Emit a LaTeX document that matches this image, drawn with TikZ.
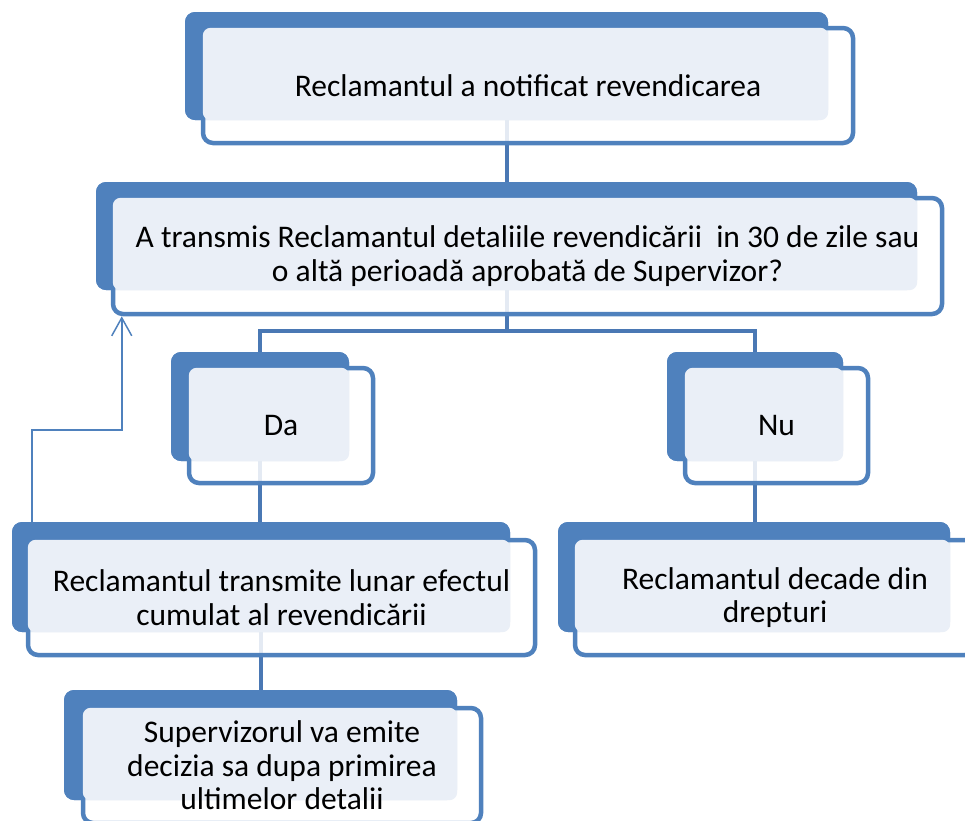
\documentclass[tikz,border=0pt]{standalone}
\usepackage{fontspec}
\setmainfont{Carlito}
\usetikzlibrary{arrows.meta}
\definecolor{boxblue}{HTML}{4F81BD}
\definecolor{linkblue}{HTML}{4A78B4}
\definecolor{boxlight}{HTML}{EAEFF7}

\begin{document}
\begin{tikzpicture}[x=1pt, y=-1pt,
	back/.style={fill=boxblue, rounded corners=10pt, inner sep=0pt},
	frame/.style={draw=boxblue, line width=4.5pt, fill=white, fill opacity=0.85, rounded corners=10pt, inner sep=0pt},
	light/.style={fill=boxlight, rounded corners=8pt},
	txt/.style={font=\fontsize{31.5}{33.5}\selectfont, align=center, inner sep=0pt},
	link/.style={draw=linkblue, line width=4pt},
	fb/.style={draw=boxblue, line width=1.5pt, -{Straight Barb[length=18pt, width=20pt]}}]
		\useasboundingbox (0,0) rectangle (965,820);
		\clip (0,0) rectangle (965,820);
		% ramuri
		\node[back, minimum width=643, minimum height=108] (notif-b) at (506.5,66) {};
		\node[back, minimum width=821, minimum height=108] (intreb-b) at (506.5,236) {};
		\node[back, minimum width=178, minimum height=109] (da-b) at (260,406.5) {};
		\node[back, minimum width=176, minimum height=109] (nu-b) at (755,406.5) {};
		\node[back, minimum width=498, minimum height=110] (trans-b) at (261,577) {};
		\node[back, minimum width=392, minimum height=110] (decade-b) at (754,577) {};
		\node[back, minimum width=393, minimum height=110] (decizie-b) at (260.5,745) {};
		\coordinate (split) at (506.5,331);
		\coordinate (loop) at (32,522);
		\draw[link] (notif-b.south) -- (intreb-b.north);
		\draw[link] (intreb-b.south) -- (split);
		\draw[link] (split) -| (da-b.north);
		\draw[link] (split) -| (nu-b.north);
		\draw[link] (da-b.south) -- (da-b.south |- trans-b.north);
		\draw[link] (nu-b.south) -- (nu-b.south |- decade-b.north);
		\draw[link] (trans-b.south) -- (trans-b.south |- decizie-b.north);
		% casete
		\node[back, minimum width=643, minimum height=108] at (notif-b) {};
		\node[frame, minimum width=650, minimum height=115] (notif-f) at (528,85.5) {};
		\fill[light] ([xshift=2pt, yshift=-2pt]notif-f.north west) rectangle (notif-b.south east);
		\node[txt] (notif) at (notif-f) {Reclamantul a notificat revendicarea};

		\node[back, minimum width=821, minimum height=108] at (intreb-b) {};
		\node[frame, minimum width=829, minimum height=116] (intreb-f) at (527.5,256) {};
		\fill[light] ([xshift=2pt, yshift=-2pt]intreb-f.north west) rectangle (intreb-b.south east);
		\node[txt] (intreb) at (intreb-f) {A transmis Reclamantul detaliile revendicării\ \ in 30 de zile sau\\o altă perioadă aprobată de Supervizor?};

		\node[back, minimum width=178, minimum height=109] at (da-b) {};
		\node[frame, minimum width=184, minimum height=115] (da-f) at (281,425.5) {};
		\fill[light] ([xshift=2pt, yshift=-2pt]da-f.north west) rectangle (da-b.south east);
		\node[txt] (da) at (da-f) {Da};

		\node[back, minimum width=176, minimum height=109] at (nu-b) {};
		\node[frame, minimum width=183, minimum height=115] (nu-f) at (776.5,425.5) {};
		\fill[light] ([xshift=2pt, yshift=-2pt]nu-f.north west) rectangle (nu-b.south east);
		\node[txt] (nu) at (nu-f) {Nu};

		\node[back, minimum width=498, minimum height=110] at (trans-b) {};
		\node[frame, minimum width=507, minimum height=115] (trans-f) at (281.5,597.5) {};
		\fill[light] ([xshift=2pt, yshift=-2pt]trans-f.north west) rectangle (trans-b.south east);
		\node[txt] (trans) at (trans-f) {Reclamantul transmite lunar efectul\\cumulat al revendicării};

		\node[back, minimum width=392, minimum height=110] at (decade-b) {};
		\node[frame, minimum width=400, minimum height=115] (decade-f) at (775,597.5) {};
		\fill[light] ([xshift=2pt, yshift=-2pt]decade-f.north west) rectangle (decade-b.south east);
		\node[txt] (decade) at (decade-f) {Reclamantul decade din\\drepturi};

		\node[back, minimum width=393, minimum height=110] at (decizie-b) {};
		\node[frame, minimum width=398, minimum height=115] (decizie-f) at (282,765.5) {};
		\fill[light] ([xshift=2pt, yshift=-2pt]decizie-f.north west) rectangle (decizie-b.south east);
		\node[txt] (decizie) at (decizie-f) {Supervizorul va emite\\decizia sa dupa primirea\\ultimelor detalii};

		\draw[fb] (loop) -- ++(0,-92) -| ([xshift=11pt]intreb-f.south west);
	\end{tikzpicture}
\end{document}
